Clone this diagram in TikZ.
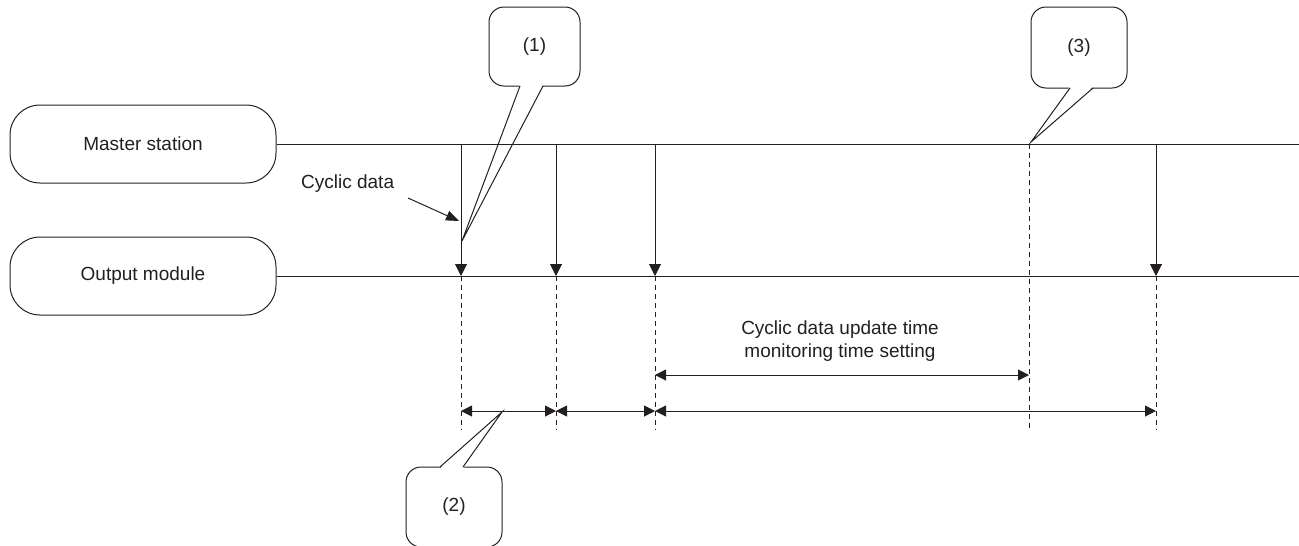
\documentclass[tikz,border=0pt]{standalone}
\usepackage{fontspec}
\setmainfont{Liberation Sans}
\usetikzlibrary{arrows.meta,calc}
\definecolor{ink}{HTML}{231F20}
\begin{document}
\begin{tikzpicture}[x=1pt,y=-1pt,
  font=\fontsize{19}{23}\selectfont,
  every node/.style={text=ink},
  lane/.style={draw=ink, line width=1pt, rounded corners=30pt, minimum width=266pt, minimum height=78pt, inner sep=0pt},
  timeline/.style={draw=ink, line width=1pt},
  msg/.style={draw=ink, line width=1pt, -{Triangle[width=12pt,length=12pt]}},
  hint/.style={draw=ink, line width=1pt, -{Triangle[width=10pt,length=13pt]}},
  span/.style={draw=ink, line width=1pt, {Triangle[width=11pt,length=11pt]}-{Triangle[width=11pt,length=11pt]}},
  guide/.style={draw=ink, line width=0.8pt, dash pattern=on 5pt off 4pt},
  bubble/.style={draw=ink, fill=white, line width=1pt, rounded corners=15pt, inner sep=0pt},
]
\useasboundingbox (0,0) rectangle (1299,546);

% callouts (drawn first)
\node[bubble, minimum width=91pt, minimum height=79pt] (c1) at (534.5,46.5) {(1)};
\coordinate (c1l) at (520,86); \coordinate (c1r) at (543,86); \coordinate (c1t) at (462,241);
\fill[white] ($(c1l)+(0,-1.5)$) -- (c1t) -- ($(c1r)+(0,-1.5)$) -- cycle;
\draw[ink, line width=1pt] (c1l) -- (c1t) -- (c1r);

\node[bubble, minimum width=96pt, minimum height=80pt] (c2) at (454,507) {(2)};
\coordinate (c2l) at (440,467); \coordinate (c2r) at (463,467); \coordinate (c2t) at (502,412);
\fill[white] ($(c2l)+(0,1.5)$) -- (c2t) -- ($(c2r)+(0,1.5)$) -- cycle;
\draw[ink, line width=1pt] (c2l) -- (c2t) -- (c2r);

\node[bubble, minimum width=96pt, minimum height=81pt] (c3) at (1079,47.5) {(3)};
\coordinate (c3l) at (1070,88); \coordinate (c3r) at (1093,88); \coordinate (c3t) at (1031,142);
\fill[white] ($(c3l)+(0,-1.5)$) -- (c3t) -- ($(c3r)+(0,-1.5)$) -- cycle;
\draw[ink, line width=1pt] (c3l) -- (c3t) -- (c3r);

% lanes
\node[lane] (ms) at (143,144) {Master station};
\node[lane] (om) at (143,276) {Output module};
\coordinate (mend) at (1299,144);
\coordinate (oend) at (1299,276);
\draw[timeline] (ms.east) -- (mend);
\draw[timeline] (om.east) -- (oend);

% cyclic data transfers
\foreach \n/\x in {1/461,2/556,3/655,4/1156}{
  \coordinate (s\n) at (\x,144);
  \coordinate (r\n) at (\x,276);
  \coordinate (g\n) at (\x,430);
  \coordinate (b\n) at (\x,411);
  \draw[msg] (s\n) -- (r\n);
  \draw[guide] (r\n) -- (g\n);
}
\coordinate (w) at (1029,144);
\coordinate (wg) at (1029,430);
\draw[guide] (w) -- (wg);

% spans
\draw[span] (b1) -- (b2);
\draw[span] (b2) -- (b3);
\draw[span] (b3) -- (b4);
\coordinate (a3) at (655,375);
\coordinate (aw) at (1029,375);
\draw[span] (a3) -- (aw);

% labels
\node[align=center, inner sep=0pt] (upd) at (840,341) {Cyclic data update time\\monitoring time setting};
\node[anchor=west, inner sep=0pt] (cd) at (301,184) {Cyclic data};
\coordinate (cda) at (408,198);
\coordinate (cdb) at (459,221);
\draw[hint] (cda) -- (cdb);
\end{tikzpicture}
\end{document}
